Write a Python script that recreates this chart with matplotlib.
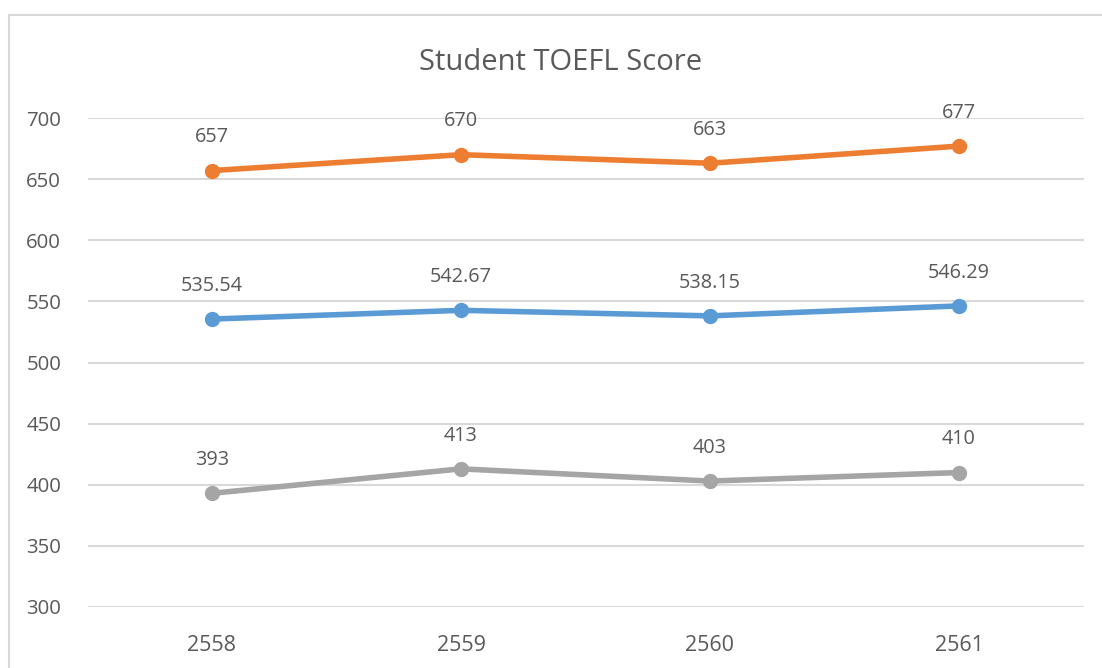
import matplotlib
matplotlib.use("Agg")
import matplotlib.pyplot as plt
from matplotlib.patches import Rectangle

years = ["2558", "2559", "2560", "2561"]
high = [657, 670, 663, 677]
avg = [535.54, 542.67, 538.15, 546.29]
low = [393, 413, 403, 410]
avg_labels = ["535.54", "542.67", "538.15", "546.29"]
yticks = [300, 350, 400, 450, 500, 550, 600, 650, 700]

plt.rcParams['font.family'] = ['Open Sans', 'DejaVu Sans']
text_col = '#595959'

fig = plt.figure(figsize=(11.02, 6.68), dpi=100)
fig.patches.append(Rectangle((9/1102, -0.1), 1.2, 1 - 15/668 + 0.1,
                             transform=fig.transFigure, fill=False,
                             edgecolor='#D9D9D9', linewidth=1.5, zorder=0))
ax = fig.add_axes([87.5/1102, 1 - 607/668, (1083.5 - 87.5)/1102, (607 - 118)/668])

x = list(range(len(years)))
series = [(high, '#ED7D31', [str(v) for v in high]),
          (avg, '#5B9BD5', avg_labels),
          (low, '#A5A5A5', [str(v) for v in low])]
for vals, col, labs in series:
    ax.plot(x, vals, color=col, linewidth=4, marker='o', markersize=10,
            solid_capstyle='round', zorder=3)
    for xi, v, lab in zip(x, vals, labs):
        ax.annotate(lab, (xi, v), xytext=(0, 24), textcoords='offset points',
                    ha='center', va='center', fontsize=14.3, color=text_col)

ax.set_xlim(-0.5, 3.5)
ax.set_ylim(300, 700)
ax.set_yticks(yticks)
ax.set_xticks(x)
ax.set_xticklabels(years)
ax.grid(axis='y', color='#D9D9D9', linewidth=1.5)
ax.set_axisbelow(True)
for s in ax.spines.values():
    s.set_visible(False)
ax.tick_params(axis='both', length=0, labelcolor=text_col)
ax.tick_params(axis='y', pad=19, labelsize=14.7)
ax.tick_params(axis='x', pad=20, labelsize=15.5)

fig.text(561/1102, 1 - 63/668, "Student TOEFL Score", ha='center', va='center',
         fontsize=21, color=text_col)

fig.savefig("out.png", dpi=100)
